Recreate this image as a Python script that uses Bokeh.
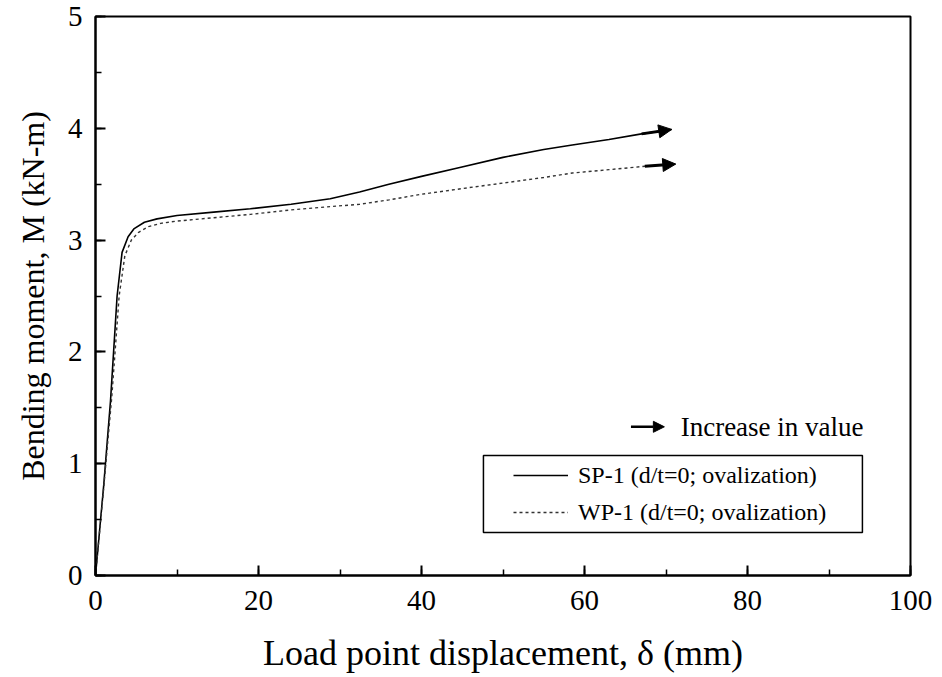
from bokeh.plotting import figure
from bokeh.models import (Range1d, SingleIntervalTicker, Arrow, NormalHead, Label,
                          Legend, LegendItem, BoxAnnotation)
from bokeh.embed import file_html
from bokeh.resources import INLINE

# ---- data ----
sp_x = [0, 1, 1.84, 2.65, 3.26, 4, 4.7, 6, 7.55, 10, 14.5, 19, 24, 28.8, 32.4,
        36, 40, 44.7, 50, 55, 58.5, 63, 67, 70.7]
sp_y = [0, 0.8, 1.56, 2.5, 2.89, 3.03, 3.10, 3.16, 3.19, 3.22, 3.25, 3.28, 3.32,
        3.37, 3.43, 3.5, 3.57, 3.65, 3.74, 3.81, 3.85, 3.9, 3.95, 3.99]
wp_x = [0, 1, 2, 2.9, 3.6, 4.4, 5.3, 6.5, 8, 10, 14.5, 19, 24, 28.8, 32.4, 36,
        40, 45.9, 50, 55, 58.5, 63, 67.4, 71.2]
wp_y = [0, 0.78, 1.6, 2.5, 2.86, 3.0, 3.07, 3.12, 3.15, 3.17, 3.2, 3.23, 3.27,
        3.3, 3.32, 3.36, 3.41, 3.47, 3.51, 3.56, 3.6, 3.63, 3.66, 3.68]
sp_label = "SP-1 (d/t=0; ovalization)"
wp_label = "WP-1 (d/t=0; ovalization)"
key_label = "Increase in value"
x_title = "Load point displacement, \u03b4 (mm)"
y_title = "Bending moment, M (kN-m)"

FONT = "Liberation Serif"

p = figure(width=942, height=677, output_backend="svg", toolbar_location=None,
           x_range=Range1d(0, 100), y_range=Range1d(0, 5),
           min_border_left=95, min_border_right=32, min_border_top=16,
           min_border_bottom=102)
p.background_fill_color = "white"
p.border_fill_color = "white"
p.outline_line_color = "black"
p.outline_line_width = 2
p.xgrid.visible = False
p.ygrid.visible = False

p.xaxis.ticker = SingleIntervalTicker(interval=20, num_minor_ticks=2)
p.yaxis.ticker = SingleIntervalTicker(interval=1, num_minor_ticks=2)
for ax in (p.xaxis[0], p.yaxis[0]):
    ax.axis_line_color = "black"
    ax.axis_line_width = 2
    ax.major_tick_in = 10
    ax.major_tick_out = 0
    ax.minor_tick_in = 6
    ax.minor_tick_out = 0
    ax.major_tick_line_width = 2
    ax.minor_tick_line_width = 1.5
    ax.major_label_text_font = FONT
    ax.major_label_text_font_size = "29px"
    ax.major_label_text_color = "black"
    ax.axis_label_text_font = FONT
    ax.axis_label_text_font_style = "normal"
    ax.axis_label_text_color = "black"
p.xaxis.axis_label = x_title
p.yaxis.axis_label = y_title
p.xaxis.axis_label_text_font_size = "36px"
p.yaxis.axis_label_text_font_size = "32px"
p.xaxis.major_label_standoff = 15
p.yaxis.major_label_standoff = 13
p.xaxis.axis_label_standoff = 20
p.yaxis.axis_label_standoff = 14

r_sp = p.line(sp_x, sp_y, line_color="black", line_width=1.6)
r_wp = p.line(wp_x, wp_y, line_color="#333333", line_width=1.4, line_dash="3 3")

# arrowheads at the ends of the curves
p.add_layout(Arrow(end=NormalHead(size=13, fill_color="black", line_color="black"),
                   x_start=sp_x[-2], y_start=sp_y[-2], x_end=sp_x[-1], y_end=sp_y[-1],
                   line_width=3, line_color="black"))
p.add_layout(Arrow(end=NormalHead(size=13, fill_color="black", line_color="black"),
                   x_start=wp_x[-2], y_start=wp_y[-2], x_end=wp_x[-1], y_end=wp_y[-1],
                   line_width=3, line_color="black"))

# key: arrow = increase in value
KEY_X0, KEY_X1, KEY_Y, KEY_TX = 65.7, 69.8, 1.33, 71.8
p.add_layout(Arrow(end=NormalHead(size=11, fill_color="black", line_color="black"),
                   x_start=KEY_X0, y_start=KEY_Y, x_end=KEY_X1, y_end=KEY_Y,
                   line_width=2.5, line_color="black"))
p.add_layout(Label(x=KEY_TX, y=KEY_Y, text=key_label, text_font=FONT,
                   text_font_size="27px", text_baseline="middle", text_color="black"))

# legend frame (drawn separately so its side margins can be wider than its top/bottom)
p.add_layout(BoxAnnotation(left=47.6, right=94.1, bottom=0.385, top=1.073,
                           fill_color="white", fill_alpha=1.0,
                           line_color="black", line_alpha=1.0, line_width=1.5,
                           level="overlay"))

legend = Legend(items=[LegendItem(label=sp_label, renderers=[r_sp]),
                       LegendItem(label=wp_label, renderers=[r_wp])],
                location=(413, 43), margin=0, padding=5, spacing=7,
                glyph_width=55, glyph_height=30, label_height=30,
                label_standoff=10, label_text_font=FONT, label_text_font_size="24px",
                label_text_color="black", border_line_alpha=0.0,
                background_fill_alpha=0.0)
p.add_layout(legend)

open("out.html", "w").write(file_html(p, INLINE))
